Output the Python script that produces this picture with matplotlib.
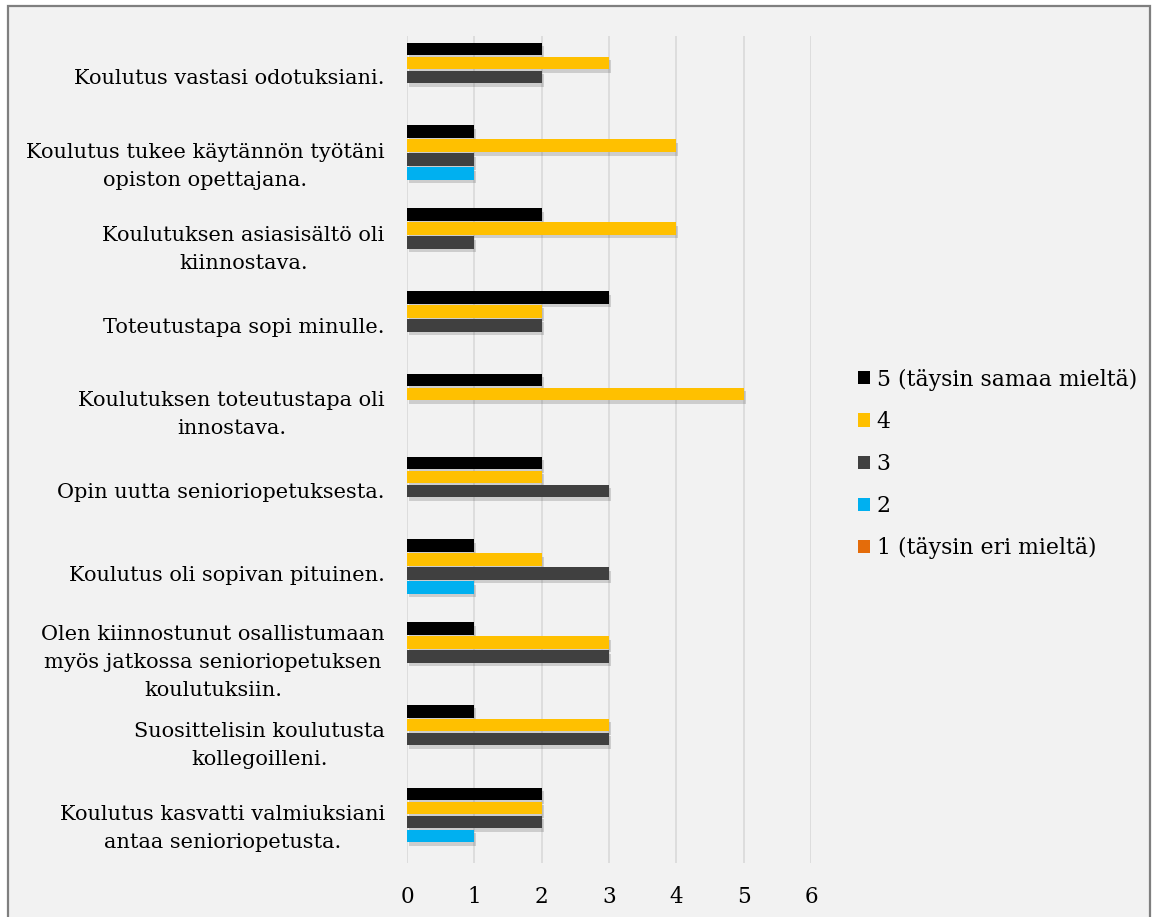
import numpy as np
import matplotlib
matplotlib.use('Agg')
import matplotlib.pyplot as plt
import matplotlib.patheffects as pe
from matplotlib.patches import Rectangle, Patch

plt.rcParams['font.family'] = ['DejaVu Serif']

# statements, top to bottom
categories = [
    "Koulutus vastasi odotuksiani.",
    "Koulutus tukee käytännön työtäni\nopiston opettajana.",
    "Koulutuksen asiasisältö oli\nkiinnostava.",
    "Toteutustapa sopi minulle.",
    "Koulutuksen toteutustapa oli\ninnostava.",
    "Opin uutta senioriopetuksesta.",
    "Koulutus oli sopivan pituinen.",
    "Olen kiinnostunut osallistumaan\nmyös jatkossa senioriopetuksen\nkoulutuksiin.",
    "Suosittelisin koulutusta\nkollegoilleni.",
    "Koulutus kasvatti valmiuksiani\nantaa senioriopetusta.",
]

# answer counts per scale point
val_5 = [2, 1, 2, 3, 2, 2, 1, 1, 1, 2]
val_4 = [3, 4, 4, 2, 5, 2, 2, 3, 3, 2]
val_3 = [2, 1, 1, 2, 0, 3, 3, 3, 3, 2]
val_2 = [0, 1, 0, 0, 0, 0, 1, 0, 0, 1]
val_1 = [0, 0, 0, 0, 0, 0, 0, 0, 0, 0]

series_names = ["5 (täysin samaa mieltä)", "4", "3", "2", "1 (täysin eri mieltä)"]
series_vals = [val_5, val_4, val_3, val_2, val_1]
colors = ["#000000", "#FFC000", "#404040", "#00B0F0", "#E46C0A"]

fig = plt.figure(figsize=(11.52, 9.17), dpi=100)
fig.patch.set_facecolor('white')

# chart area frame (runs past the bottom edge like the original crop)
frame = Rectangle((8 / 1152, -0.05), (1150 - 8) / 1152, 1.05 - 6 / 917,
                  transform=fig.transFigure, facecolor='#F2F2F2',
                  edgecolor='#7F7F7F', linewidth=1.6, zorder=-5)
fig.patches.append(frame)

ax = fig.add_axes([407 / 1152, 0.0585, (811 - 407) / 1152, 0.9612 - 0.0585])
ax.set_facecolor('none')
ax.set_zorder(1)

y = np.arange(len(categories))
pitch = 0.169
height = 0.152
shadow = [pe.SimplePatchShadow(offset=(1.5, -2.5), shadow_rgbFace='#000000', alpha=0.15), pe.Normal()]

for i, (name, vals, c) in enumerate(zip(series_names, series_vals, colors)):
    bars = ax.barh(y + (i - 2) * pitch, vals, height=height, color=c, label=name, zorder=3)
    for b in bars:
        if b.get_width() > 0:
            b.set_path_effects(shadow)

ax.set_xlim(0, 6)
ax.set_ylim(len(categories) - 0.5, -0.5)
ax.set_xticks(range(7))
ax.set_yticks(y)
ax.set_yticklabels(categories)
ax.tick_params(axis='x', length=0, pad=16, labelsize=15.5, colors='#000000')
ax.tick_params(axis='y', length=0, pad=16, labelsize=15)
for t in ax.get_yticklabels():
    t.set_horizontalalignment('right')
    t.set_multialignment('center')
    t.set_linespacing(1.6)
ax.xaxis.grid(True, color='#D9D9D9', linewidth=1.2, zorder=0)
ax.set_axisbelow(True)
for s in ax.spines.values():
    s.set_visible(False)

handles = [Patch(facecolor=c, edgecolor='none') for c in colors]
fig.legend(handles, series_names, loc='center left', bbox_to_anchor=(858 / 1152, 1 - 464 / 917),
           frameon=False, fontsize=15.8, handlelength=0.55, handleheight=0.55,
           handletextpad=0.3, labelspacing=0.92, borderpad=0, borderaxespad=0)

fig.savefig('out.png', dpi=100, facecolor=fig.get_facecolor())
